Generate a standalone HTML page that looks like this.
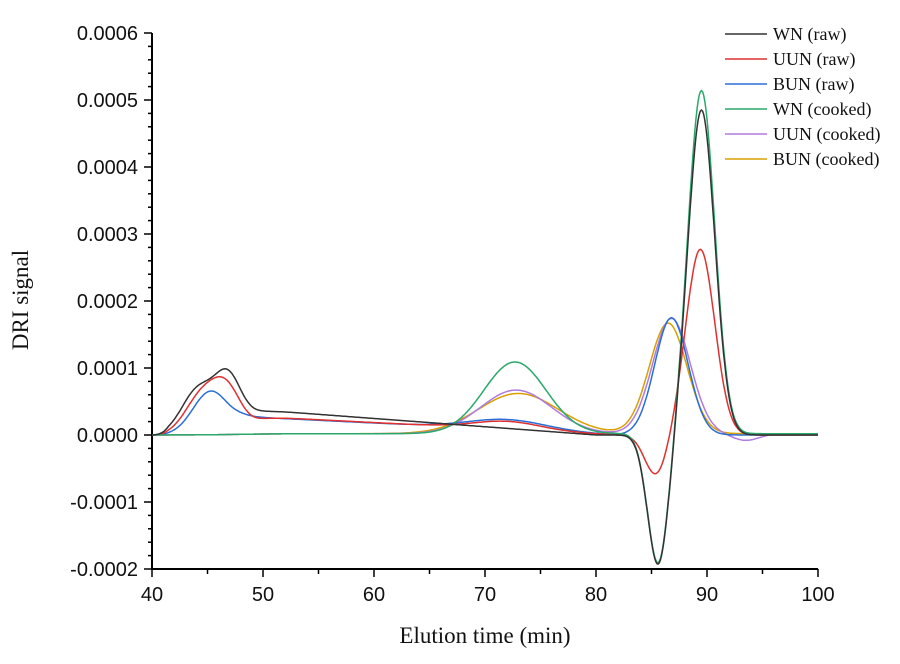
<!DOCTYPE html>
<html><head><meta charset="utf-8"><style>
body{margin:0;background:#fff;width:900px;height:664px;overflow:hidden}
svg{display:block}
.t{font-family:"Liberation Sans",Arial,sans-serif;font-size:20px;fill:#111}
.s{font-family:"Liberation Serif","Times New Roman",serif;fill:#111}
</style></head><body>
<svg id="c" width="900" height="664" viewBox="0 0 900 664">
<g stroke="#000" stroke-width="2" fill="none">
<line x1="152" y1="33" x2="152" y2="569"/>
<line x1="151" y1="569" x2="818" y2="569"/>
</g>
<g id="ticks" stroke="#000" stroke-width="1.5"></g>
<g id="lab"></g>
<text class="s" x="485" y="643" font-size="23" text-anchor="middle">Elution time (min)</text>
<text class="s" x="28" y="300" font-size="23" text-anchor="middle" transform="rotate(-90 28 300)">DRI signal</text>
<g id="curves" fill="none" stroke-width="1.5"></g>
<g id="leg"></g>
</svg>
<script>
var NS="http://www.w3.org/2000/svg";
function el(p,n,a,t){var e=document.createElementNS(NS,n);for(var k in a)e.setAttribute(k,a[k]);if(t)e.textContent=t;document.getElementById(p).appendChild(e);}
function px(t){return 152+(t-40)*11.1;}
function py(v){return 435-v*67;}
for(var i=0;i<=40;i++){var v=-2+i*0.2,y=py(v),maj=(i%5==0);
 el("ticks","line",{x1:152,x2:maj?144:148,y1:y,y2:y});
 if(maj){var s=(Math.abs(v)<1e-9)?"0.0000":(v<0?"-":"")+"0.000"+Math.round(Math.abs(v));
 el("lab","text",{"class":"t",x:138,y:y+7,"text-anchor":"end"},s);}}
for(var t=40;t<=100;t+=5){var x=px(t),maj=(t%10==0);
 el("ticks","line",{x1:x,x2:x,y1:569,y2:maj?577:574});
 if(maj)el("lab","text",{"class":"t",x:x,y:601,"text-anchor":"middle"},t);}
function g(t,m,s,a){return a*Math.exp(-0.5*Math.pow((t-m)/s,2));}
function sig(t,m,w){return 1/(1+Math.exp(-(t-m)/w));}
function lin(t,t0,v0,t1,v1){if(t<t0)return v0;if(t>t1)return v1;return v0+(v1-v0)*(t-t0)/(t1-t0);}
var F={
"#333":function(t){return g(t,44.2,1.5,0.68)+g(t,46.9,1.2,0.8)+sig(t,48.5,0.7)*lin(t,50,0.37,80,0)+g(t,85.6,0.95,-1.95)+g(t,89.5,1.2,4.85);},
"#e03030":function(t){return g(t,44.5,1.5,0.58)+g(t,46.8,1.3,0.62)+sig(t,49,0.7)*lin(t,50,0.27,82,0)+g(t,72,3,0.12)+g(t,85.4,1.0,-0.6)+g(t,89.4,1.3,2.77);},
"#2a6fd6":function(t){return g(t,45.3,1.6,0.65)+sig(t,47.5,0.6)*lin(t,50,0.26,82,0)+g(t,72,3.5,0.15)+g(t,86.8,1.5,1.75);},
"#2aa86a":function(t){return g(t,72.7,2.8,1.07)+g(t,85.6,0.95,-1.95)+g(t,89.5,1.2,5.12)+sig(t,48,2)*0.02;},
"#b07ae0":function(t){return g(t,72.8,3.2,0.65)+g(t,86.8,1.7,1.72)+g(t,93.5,1.2,-0.1)+sig(t,48,2)*0.02;},
"#d8a000":function(t){return g(t,73,3.6,0.6)+g(t,86.5,1.7,1.65)+sig(t,48,2)*0.02;}};
var order=["#d8a000","#b07ae0","#2a6fd6","#e03030","#2aa86a","#333"];
order.forEach(function(c){var d="";for(var t=40;t<=100.001;t+=0.1){var v=F[c](t);if(t<41.5)v*=Math.max(0,(t-40)/1.5);d+=(d?"L":"M")+px(t).toFixed(1)+","+py(v).toFixed(1);}
 el("curves","path",{d:d,stroke:c});});
var L=[["WN (raw)","#333"],["UUN (raw)","#e03030"],["BUN (raw)","#2a6fd6"],["WN (cooked)","#2aa86a"],["UUN (cooked)","#b07ae0"],["BUN (cooked)","#d8a000"]];
L.forEach(function(l,i){var y=34+i*25;el("leg","line",{x1:725,x2:767,y1:y,y2:y,stroke:l[1],"stroke-width":1.5});
 el("leg","text",{"class":"s",x:773,y:y+6,"font-size":18},l[0]);});
</script>
</body></html>
